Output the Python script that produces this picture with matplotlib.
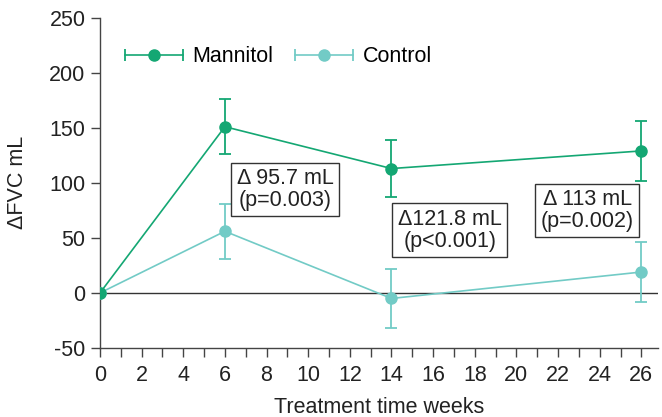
import numpy as np
import matplotlib
matplotlib.use('Agg')
import matplotlib.pyplot as plt
from matplotlib.legend_handler import HandlerBase
from matplotlib.lines import Line2D

plt.rcParams['font.family'] = ['Liberation Sans', 'DejaVu Sans']
plt.rcParams['axes.unicode_minus'] = False

weeks = [0, 6, 14, 26]
mannitol = [0, 151, 113, 129]
mannitol_err = [0, 25, 26, 27]
control = [0, 56, -5, 19]
control_err = [0, 25, 27, 27]

notes = ['\u0394 95.7 mL\n(p=0.003)', '\u0394121.8 mL\n(p<0.001)', '\u0394 113 mL\n(p=0.002)']
note_x = [8.9, 16.8, 23.4]
note_y = [94, 57, 75]

green = '#14a773'
teal = '#72cbc6'
fs = 15.5


class CapHandler(HandlerBase):
    # horizontal "|--o--|" legend key like the original
    def create_artists(self, legend, orig_handle, xdescent, ydescent,
                       width, height, fontsize, trans):
        c = orig_handle.get_color()
        y = height / 2 - ydescent
        x0, x1 = -xdescent, width - xdescent
        line = Line2D([x0, x1], [y, y], color=c, lw=1.2)
        caps = Line2D([x0, x1], [y, y], ls='none', marker='|', ms=9, mew=1.3, color=c)
        dot = Line2D([(x0 + x1) / 2], [y], ls='none', marker='o', ms=8, color=c)
        for a in (line, caps, dot):
            a.set_transform(trans)
        return [line, caps, dot]


fig = plt.figure(figsize=(6.62, 4.17), dpi=100)
ax = fig.add_axes([0.151, 0.1655, 0.843, 0.792])

ax.axhline(0, color='#333333', lw=1.0, zorder=1)

ax.errorbar(weeks, control, yerr=control_err, color=teal, marker='o', ms=8,
            lw=1.2, capsize=4.2, elinewidth=1.3, capthick=1.3, zorder=3)
ax.errorbar(weeks, mannitol, yerr=mannitol_err, color=green, marker='o', ms=8,
            lw=1.2, capsize=4.2, elinewidth=1.3, capthick=1.3, zorder=4)

for t, x, y in zip(notes, note_x, note_y):
    ax.text(x, y, t, ha='center', va='center', fontsize=fs, color='#222222',
            linespacing=1.05,
            bbox=dict(boxstyle='square,pad=0.25', fc='white', ec='#333333', lw=1.0))

ax.set_xlim(0, 26.8)
ax.set_ylim(-50, 250)
ax.set_xticks(np.arange(0, 27, 1))
ax.set_xticklabels([str(i) if i % 2 == 0 else '' for i in range(27)])
ax.set_yticks(np.arange(-50, 251, 50))
ax.tick_params(direction='out', length=6.5, width=1.0, color='#444444',
               labelsize=fs, labelcolor='#222222')
ax.tick_params(axis='x', pad=6)
ax.tick_params(axis='y', pad=4)
for s in ['top', 'right']:
    ax.spines[s].set_visible(False)
for s in ['left', 'bottom']:
    ax.spines[s].set_color('#444444')
    ax.spines[s].set_linewidth(1.0)

ax.set_xlabel('Treatment time weeks', fontsize=fs, color='#222222', labelpad=8)
ax.set_ylabel('\u0394FVC mL', fontsize=fs, color='#222222', labelpad=15)

hm = Line2D([], [], color=green)
hc = Line2D([], [], color=teal)
ax.legend([hm, hc], ['Mannitol', 'Control'], handler_map={Line2D: CapHandler()},
          loc='upper left', bbox_to_anchor=(0.01, 0.972), ncol=2, frameon=False,
          fontsize=fs, handlelength=2.7, columnspacing=1.0, handletextpad=0.45)

fig.savefig('out.png', dpi=100)
